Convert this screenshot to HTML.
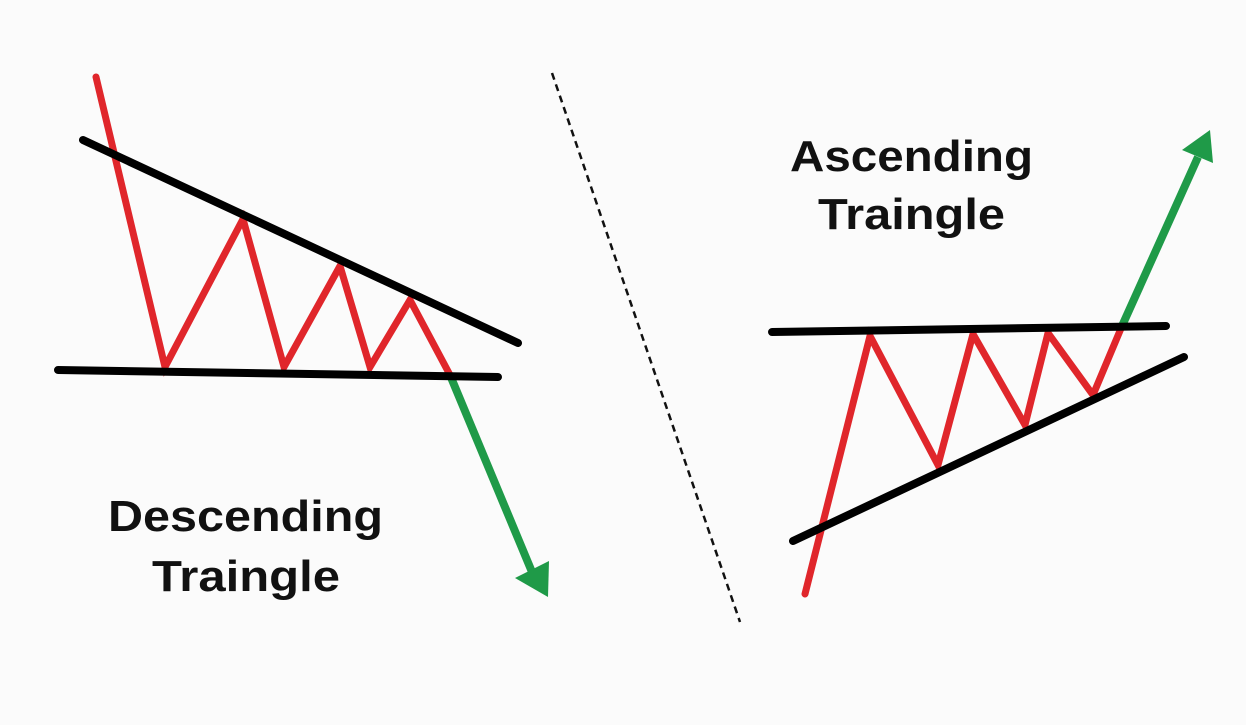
<!DOCTYPE html>
<html><head><style>html,body{margin:0;padding:0;background:#fbfbfb}</style></head>
<body>
<svg width="1246" height="720" viewBox="0 0 1246 720" xmlns="http://www.w3.org/2000/svg">
<rect width="1246" height="720" fill="#fbfbfb"/>
<!-- left -->
<polyline points="96,77 165,367 243,219 284,367 340,266 370,367 410,300 450,375" fill="none" stroke="#e0262b" stroke-width="7" stroke-linejoin="miter" stroke-linecap="round"/>
<line x1="450" y1="375" x2="532" y2="572" stroke="#1f9a48" stroke-width="8"/>
<polygon points="548,597 515,578 549,561" fill="#1f9a48"/>
<line x1="83" y1="140" x2="518" y2="343" stroke="#000" stroke-width="8" stroke-linecap="round"/>
<line x1="58" y1="370" x2="498" y2="377" stroke="#000" stroke-width="8" stroke-linecap="round"/>
<!-- divider -->
<line x1="552" y1="73" x2="740" y2="622" stroke="#111" stroke-width="2.5" stroke-dasharray="7,5"/>
<!-- right -->
<polyline points="805,594 870,336 938,465 973,334 1025,425 1048,333 1093,395 1122,326" fill="none" stroke="#e0262b" stroke-width="7" stroke-linecap="round"/>
<line x1="1122" y1="326" x2="1198" y2="157" stroke="#1f9a48" stroke-width="8"/>
<polygon points="1210,130 1182,150 1213,163" fill="#1f9a48"/>
<line x1="772" y1="332" x2="1166" y2="326" stroke="#000" stroke-width="8" stroke-linecap="round"/>
<line x1="793" y1="541" x2="1184" y2="357" stroke="#000" stroke-width="8" stroke-linecap="round"/>
<!-- text -->
<g font-family="Liberation Sans, sans-serif" font-weight="bold" font-size="44" fill="#111">
<text x="790" y="171" textLength="243" lengthAdjust="spacingAndGlyphs">Ascending</text>
<text x="818" y="229" textLength="187" lengthAdjust="spacingAndGlyphs">Traingle</text>
<text x="108" y="531" textLength="275" lengthAdjust="spacingAndGlyphs">Descending</text>
<text x="152" y="591" textLength="188" lengthAdjust="spacingAndGlyphs">Traingle</text>
</g>
</svg>
</body></html>
